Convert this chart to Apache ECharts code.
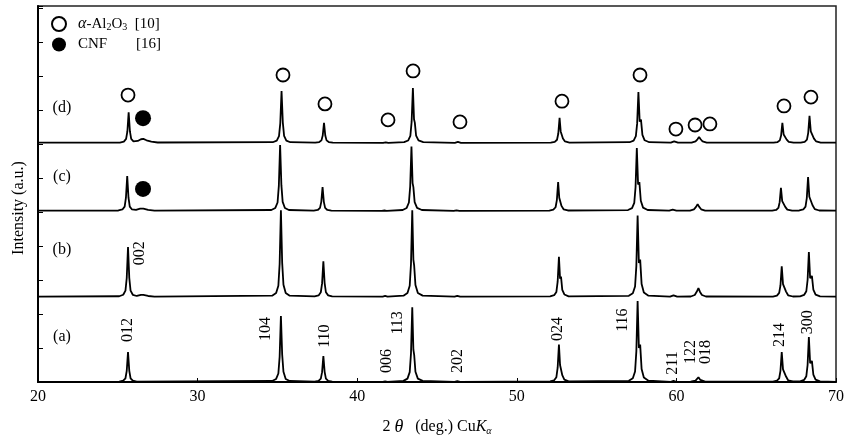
<!DOCTYPE html>
<html><head><meta charset="utf-8">
<script src="https://cdn.jsdelivr.net/npm/echarts/dist/echarts.min.js"></script>
<style>html,body{margin:0;padding:0;background:#fff}#c{width:855px;height:441px}</style>
</head><body><div id="c"></div>
<script>
// XRD patterns, [2theta, intensity (a.u., above own baseline)]
const traceA = [
[20,0.005],
[25.09,0.013],[25.34,0.04],[25.48,0.11],[25.56,0.33],[25.64,0.88],[25.72,0.33],[25.8,0.11],[25.94,0.04],[26.19,0.013],
[34.67,0.03],[34.92,0.09],[35.06,0.25],[35.14,0.74],[35.22,1.94],[35.3,0.8],[35.38,0.3],[35.52,0.09],[35.77,0.03],
[37.33,0.011],[37.58,0.034],[37.72,0.1],[37.8,0.29],[37.88,0.76],[37.96,0.3],[38.04,0.1],[38.18,0.035],[38.43,0.011],
[41.6,0.005],[41.75,0.02],[41.9,0.005],
[42.9,0.033],[43.15,0.1],[43.29,0.29],[43.37,0.84],[43.45,2.2],[43.52,0.95],[43.57,0.8],[43.65,0.3],[43.8,0.1],[44.1,0.035],
[46.1,0.005],[46.27,0.025],[46.45,0.005],
[52.09,0.017],[52.34,0.05],[52.48,0.14],[52.56,0.42],[52.64,1.1],[52.71,0.5],[52.77,0.55],[52.85,0.2],[52.98,0.07],[53.25,0.02],
[57.02,0.036],[57.27,0.11],[57.41,0.31],[57.49,0.9],[57.57,2.38],[57.65,1.0],[57.73,1.1],[57.82,0.38],[57.96,0.13],[58.25,0.04],
[59.65,0.005],[59.82,0.03],[60.0,0.005],
[60.9,0.008],[61.2,0.04],[61.38,0.14],[61.5,0.06],[61.8,0.01],
[66.05,0.013],[66.3,0.04],[66.44,0.11],[66.52,0.33],[66.6,0.88],[66.68,0.37],[66.78,0.42],[66.87,0.16],[67.0,0.05],[67.3,0.015],
[67.75,0.02],[68.0,0.06],[68.14,0.17],[68.22,0.5],[68.3,1.32],[68.38,0.55],[68.49,0.62],[68.58,0.22],[68.72,0.07],[69.0,0.02],[70,0.005]
];
const traceB = [
[20,0.01],
[25.09,0.022],[25.34,0.066],[25.48,0.19],[25.56,0.56],[25.64,1.47],[25.72,0.56],[25.8,0.19],[25.94,0.066],[26.19,0.03],
[26.45,0.06],[26.6,0.06],[26.9,0.03],[27.3,0.01],
[34.67,0.038],[34.92,0.115],[35.06,0.33],[35.14,0.97],[35.22,2.55],[35.3,1.0],[35.38,0.36],[35.52,0.12],[35.77,0.04],
[37.33,0.016],[37.58,0.047],[37.72,0.14],[37.8,0.4],[37.88,1.05],[37.96,0.41],[38.04,0.14],[38.18,0.048],[38.43,0.016],
[41.6,0.01],[41.75,0.03],[41.9,0.01],
[42.9,0.038],[43.15,0.115],[43.29,0.33],[43.37,0.97],[43.45,2.55],[43.52,1.1],[43.57,0.92],[43.65,0.35],[43.8,0.12],[44.1,0.04],
[46.1,0.01],[46.27,0.035],[46.45,0.01],
[52.09,0.018],[52.34,0.053],[52.48,0.15],[52.56,0.45],[52.64,1.18],[52.71,0.54],[52.77,0.6],[52.85,0.21],[52.98,0.075],[53.25,0.02],
[57.02,0.036],[57.27,0.11],[57.41,0.31],[57.49,0.91],[57.57,2.4],[57.65,1.0],[57.73,1.1],[57.82,0.38],[57.96,0.13],[58.25,0.04],
[59.6,0.01],[59.82,0.05],[60.05,0.01],
[60.9,0.015],[61.15,0.06],[61.28,0.16],[61.38,0.26],[61.48,0.15],[61.6,0.06],[61.85,0.015],
[66.05,0.014],[66.3,0.04],[66.44,0.12],[66.52,0.34],[66.6,0.9],[66.68,0.38],[66.78,0.43],[66.87,0.16],[67.0,0.05],[67.3,0.015],
[67.75,0.02],[68.0,0.06],[68.14,0.17],[68.22,0.5],[68.3,1.32],[68.38,0.55],[68.49,0.62],[68.58,0.22],[68.72,0.07],[69.0,0.02],[70,0.01]
];
const traceC = [
[20,0.01],
[25.04,0.015],[25.29,0.046],[25.43,0.13],[25.51,0.39],[25.59,1.03],[25.67,0.39],[25.75,0.13],[25.89,0.046],[26.14,0.03],
[26.4,0.07],[26.6,0.07],[26.9,0.035],[27.3,0.01],
[34.62,0.03],[34.87,0.09],[35.01,0.25],[35.09,0.74],[35.17,1.94],[35.25,0.76],[35.33,0.27],[35.47,0.09],[35.72,0.03],
[37.28,0.01],[37.53,0.03],[37.67,0.09],[37.75,0.27],[37.83,0.7],[37.91,0.27],[37.99,0.09],[38.13,0.03],[38.38,0.01],
[41.55,0.005],[41.7,0.015],[41.85,0.005],
[42.85,0.03],[43.1,0.09],[43.24,0.25],[43.32,0.72],[43.4,1.9],[43.47,0.82],[43.52,0.7],[43.6,0.26],[43.75,0.09],[44.05,0.03],
[46.05,0.005],[46.22,0.02],[46.4,0.005],
[52.04,0.013],[52.29,0.04],[52.43,0.11],[52.51,0.32],[52.59,0.85],[52.66,0.39],[52.72,0.42],[52.8,0.15],[52.93,0.05],[53.2,0.015],
[56.97,0.028],[57.22,0.083],[57.36,0.24],[57.44,0.7],[57.52,1.85],[57.6,0.78],[57.68,0.85],[57.77,0.3],[57.91,0.1],[58.2,0.03],
[59.55,0.01],[59.77,0.04],[60.0,0.01],
[60.85,0.012],[61.1,0.05],[61.23,0.12],[61.33,0.2],[61.43,0.12],[61.55,0.05],[61.8,0.012],
[66.0,0.01],[66.25,0.03],[66.39,0.09],[66.47,0.26],[66.55,0.68],[66.63,0.29],[66.73,0.33],[66.82,0.12],[66.95,0.04],[67.25,0.01],
[67.7,0.015],[67.95,0.045],[68.09,0.13],[68.17,0.38],[68.25,1.0],[68.33,0.42],[68.44,0.47],[68.53,0.17],[68.67,0.055],[68.95,0.015],[70,0.01]
];
const traceD = [
[20,0.01],
[25.13,0.014],[25.38,0.04],[25.52,0.12],[25.6,0.34],[25.68,0.9],[25.76,0.34],[25.84,0.12],[25.98,0.05],[26.1,0.04],
[26.25,0.06],[26.45,0.11],[26.6,0.12],[26.8,0.08],[27.1,0.04],[27.5,0.015],
[34.71,0.023],[34.96,0.07],[35.1,0.2],[35.18,0.58],[35.26,1.53],[35.34,0.6],[35.42,0.21],[35.56,0.07],[35.81,0.023],
[37.37,0.009],[37.62,0.027],[37.76,0.077],[37.84,0.22],[37.92,0.59],[38.0,0.22],[38.08,0.077],[38.22,0.027],[38.47,0.009],
[41.62,0.005],[41.79,0.02],[41.95,0.005],
[42.94,0.024],[43.19,0.073],[43.33,0.21],[43.41,0.62],[43.49,1.62],[43.56,0.7],[43.61,0.6],[43.69,0.22],[43.84,0.075],[44.14,0.025],
[46.12,0.005],[46.31,0.03],[46.5,0.005],
[52.13,0.011],[52.38,0.033],[52.52,0.096],[52.6,0.28],[52.68,0.74],[52.75,0.34],[52.81,0.37],[52.89,0.13],[53.02,0.045],[53.3,0.012],
[57.07,0.023],[57.32,0.068],[57.46,0.2],[57.54,0.57],[57.62,1.5],[57.7,0.63],[57.78,0.69],[57.87,0.24],[58.01,0.08],[58.3,0.023],
[59.65,0.01],[59.86,0.05],[60.1,0.01],
[60.95,0.012],[61.2,0.05],[61.32,0.11],[61.42,0.18],[61.52,0.11],[61.64,0.045],[61.9,0.01],
[66.09,0.009],[66.34,0.027],[66.48,0.077],[66.56,0.22],[66.64,0.59],[66.72,0.25],[66.82,0.28],[66.91,0.1],[67.04,0.035],[67.34,0.01],
[67.79,0.012],[68.04,0.036],[68.18,0.1],[68.26,0.3],[68.34,0.8],[68.42,0.34],[68.53,0.38],[68.62,0.13],[68.76,0.045],[69.04,0.012],[70,0.01]
];
const traces = [traceA, traceB, traceC, traceD];
const offsets = [0, 2.5, 5.03, 7.03];

const panelLabels = ['(a)', '(b)', '(c)', '(d)'];
const panelLabelPos = [[21.5, 1.32], [21.5, 3.88], [21.5, 6.03], [21.5, 8.06]];

const hklLabels = ['012','104','110','006','113','202','024','116','211','122','018','214','300','002'];
const hklPos = [[25.64,1.53],[34.3,1.56],[37.98,1.35],[41.85,0.62],[42.56,1.74],[46.3,0.62],[52.6,1.56],
                [56.65,1.82],[59.8,0.56],[60.9,0.88],[61.85,0.88],[66.5,1.38],[68.25,1.76],[26.4,3.79]];

const aluminaMarks = [[25.64,8.44],[35.35,9.03],[37.98,8.18],[41.93,7.71],[43.5,9.15],[46.44,7.65],[52.83,8.26],
                      [57.72,9.03],[59.97,7.44],[61.17,7.56],[62.1,7.59],[66.74,8.12],[68.43,8.38]];
const cnfMarks = [[26.58,7.76],[26.58,5.68]];

const serif = 'Liberation Serif, Times New Roman, serif';
const chart = echarts.init(document.getElementById('c'), null, {renderer: 'canvas'});

const series = traces.map((t, i) => ({
  type: 'line', name: 'trace' + i,
  data: t.map(p => [p[0], p[1] + offsets[i]]),
  showSymbol: false, symbol: 'none', silent: true,
  lineStyle: {color: '#000', width: 1.8}, z: 2
}));
series.push({
  type: 'scatter', name: 'alumina', data: aluminaMarks, symbol: 'circle', symbolSize: 13,
  itemStyle: {color: '#fff', borderColor: '#000', borderWidth: 1.8, opacity: 1}, z: 3
});
series.push({
  type: 'scatter', name: 'cnf', data: cnfMarks, symbol: 'circle', symbolSize: 16,
  itemStyle: {color: '#000', borderColor: '#000', borderWidth: 0, opacity: 1}, z: 3
});
series.push({
  type: 'scatter', name: 'hkl', symbolSize: 1, itemStyle: {color: 'rgba(0,0,0,0)', opacity: 1},
  data: hklPos.map((p, i) => ({value: p, name: hklLabels[i]})),
  label: {show: true, position: 'inside', rotate: 90, formatter: '{b}', color: '#000',
          fontFamily: serif, fontSize: 16}, z: 4
});
series.push({
  type: 'scatter', name: 'panels', symbolSize: 1, itemStyle: {color: 'rgba(0,0,0,0)', opacity: 1},
  data: panelLabelPos.map((p, i) => ({value: p, name: panelLabels[i]})),
  label: {show: true, position: 'inside', formatter: '{b}', color: '#000',
          fontFamily: serif, fontSize: 16}, z: 4
});

chart.setOption({
  animation: false,
  backgroundColor: '#fff',
  grid: {left: 38, right: 19, top: 6, bottom: 59, show: true, borderColor: '#222', borderWidth: 1.5, backgroundColor: 'transparent'},
  legend: {
    data: ['alumina', 'cnf'], orient: 'vertical', left: 46, top: 11, itemWidth: 28, itemHeight: 14, itemGap: 5,
    icon: 'circle', selectedMode: false,
    formatter: n => n === 'alumina'
      ? '{i|α}{n|-Al}{s|2}{n|O}{s|3}{n|  [10]}'
      : '{c|CNF}{n|[16]}',
    textStyle: {
      fontFamily: serif, fontSize: 15, color: '#000',
      rich: {
        i: {fontFamily: serif, fontSize: 16, fontStyle: 'italic', color: '#000'},
        n: {fontFamily: serif, fontSize: 15, color: '#000'},
        s: {fontFamily: serif, fontSize: 10, color: '#000', verticalAlign: 'bottom', padding: [4, 0, 0, 0]},
        c: {fontFamily: serif, fontSize: 15, color: '#000', width: 58}
      }
    }
  },
  xAxis: {
    type: 'value', min: 20, max: 70, interval: 10,
    axisLine: {show: true, lineStyle: {color: '#000', width: 2}},
    axisTick: {show: true, inside: true, length: 4, lineStyle: {color: '#000', width: 1}},
    axisLabel: {color: '#000', fontFamily: serif, fontSize: 16, margin: 7},
    splitLine: {show: false},
    name: '2 {t|θ}   (deg.) Cu{k|K}{a|α}', nameLocation: 'middle', nameGap: 36,
    nameTextStyle: {
      color: '#000', fontFamily: serif, fontSize: 16,
      rich: {
        t: {fontFamily: serif, fontSize: 18, fontStyle: 'italic', color: '#000'},
        k: {fontFamily: serif, fontSize: 16, fontStyle: 'italic', color: '#000'},
        a: {fontFamily: serif, fontSize: 10, fontStyle: 'italic', color: '#000', verticalAlign: 'bottom', padding: [5, 0, 0, 0]}
      }
    }
  },
  yAxis: {
    type: 'value', min: 0, max: 11.06, interval: 1,
    axisLine: {show: true, lineStyle: {color: '#000', width: 2}},
    axisTick: {show: true, inside: true, length: 5, lineStyle: {color: '#000', width: 1}},
    axisLabel: {show: false},
    splitLine: {show: false}
  },
  graphic: [{
    type: 'text', x: 19, y: 208, rotation: Math.PI / 2,
    style: {text: 'Intensity (a.u.)', fill: '#000', font: '16px ' + serif, textAlign: 'center', textVerticalAlign: 'middle'}
  }],
  series: series
});
</script></body></html>
